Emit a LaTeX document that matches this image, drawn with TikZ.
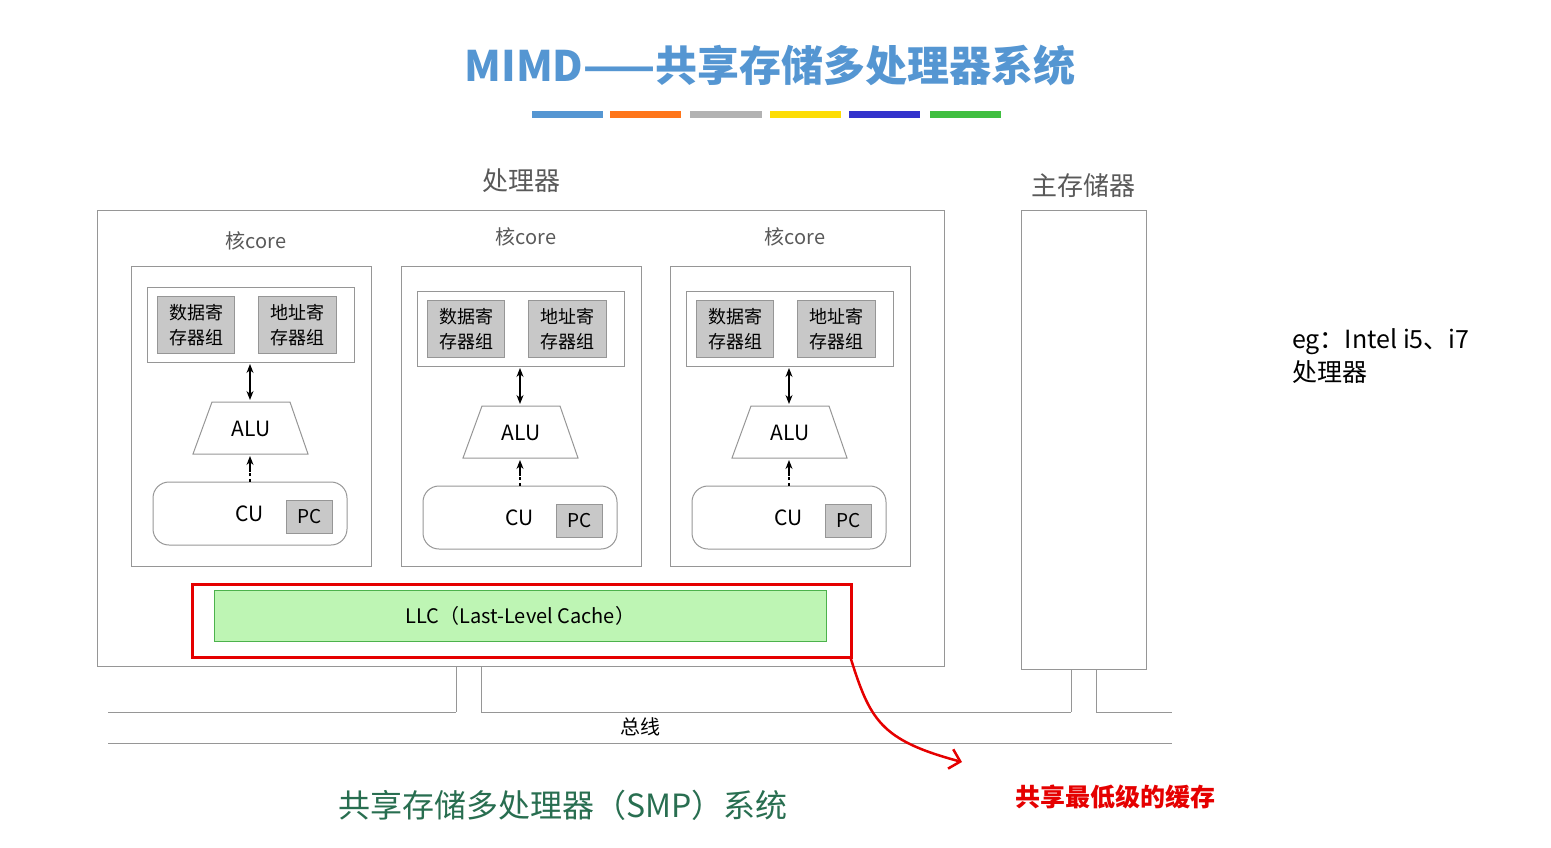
\documentclass[tikz,border=0pt]{standalone}
\usepackage{fontspec}
\setmainfont{Noto Sans CJK SC}
\usetikzlibrary{arrows.meta,calc}
\definecolor{ln}{RGB}{150,150,150}
\definecolor{reg}{RGB}{200,200,200}
\definecolor{llc}{RGB}{190,245,180}
\definecolor{ttl}{RGB}{85,150,210}
\definecolor{grn}{RGB}{40,110,80}
\begin{document}
\begin{tikzpicture}[x=1pt,y=-1pt,
  box/.style={draw=ln,line width=1pt},
  regbox/.style={draw=ln,fill=reg,line width=1pt,align=center,font=\fontsize{18}{25}\selectfont,inner sep=0pt},
  lbl/.style={font=\fontsize{20}{24}\selectfont,text=black!65},
  arr/.style={-{Stealth[length=9pt,width=7pt]},line width=1.2pt}]
\useasboundingbox (0,0) rectangle (1551,847);
\node[font=\bfseries\fontsize{42}{48}\selectfont,text=ttl] (title) at (770,65) {MIMD——共享存储多处理器系统};
\foreach \a/\b/\c in {532/603/ttl,610/681/orange!80!red!90!white,690/762/gray!60,770/841/yellow!80!orange,849/920/blue!60!gray,930/1001/green!50!gray}
  \fill[\c] (\a,111) rectangle (\b,118);
\node[box,minimum width=847,minimum height=456,anchor=north west] (proc) at (97,210) {};
\node[font=\fontsize{26}{30}\selectfont,text=black!65] (plab) at (521,181) {处理器};
\node[box,minimum width=125,minimum height=459,anchor=north west] (mem) at (1021,210) {};
\node[font=\fontsize{26}{30}\selectfont,text=black!65] (mlab) at (1083,186) {主存储器};
\foreach \i/\x/\dy/\ly in {1/131/0/241,2/401/4/237,3/670/4/237}{
  \node[box,minimum width=240,minimum height=300,anchor=north west] (core\i) at (\x,266) {};
  \node[lbl] (clab\i) at (\x+125,\ly) {核core};
  \begin{scope}[shift={(\x,\dy)}]
  \node[box,minimum width=207,minimum height=75,anchor=north west] (regs\i) at (16,287) {};
  \node[regbox,minimum width=77,minimum height=57,anchor=north west] (dr\i) at (26,296) {数据寄\\存器组};
  \node[regbox,minimum width=78,minimum height=57,anchor=north west] (ar\i) at (127,296) {地址寄\\存器组};
  \draw[box] (81,402) -- (159,402) -- (177,454) -- (62,454) -- cycle;
  \node[font=\fontsize{21}{24}\selectfont] (alu\i) at (120,429) {ALU};
  \draw[box,rounded corners=16pt] (22,482) rectangle (216,545);
  \node[font=\fontsize{21}{24}\selectfont] (cu\i) at (119,514) {CU};
  \node[regbox,minimum width=46,minimum height=33,anchor=north west,font=\fontsize{19}{22}\selectfont] (pc\i) at (155,500) {PC};
  \coordinate (a\i) at (119,364); \coordinate (b\i) at (119,400);
  \draw[arr,{Stealth[length=9pt,width=7pt]}-{Stealth[length=9pt,width=7pt]}] (a\i) -- (b\i);
  \coordinate (c\i) at (119,482); \coordinate (d\i) at (119,456);
  \coordinate (e\i) at (119,472);
  \draw[line width=1.2pt,dashed] (c\i) -- (e\i);
  \draw[arr] (e\i) -- (d\i);
  \end{scope}}
\node[draw=green!40!gray,fill=llc,minimum width=612,minimum height=51,anchor=north west] (llc) at (214,590) {};
\node[font=\fontsize{20}{24}\selectfont] at (llc) {LLC（Last-Level Cache）};
\node[draw=red!90!black,line width=3pt,minimum width=659,minimum height=73,anchor=north west] (red) at (191,583) {};
% bus
\draw[ln,line width=1pt] (108,712) -- (456,712) (481,712) -- (1071,712) (1096,712) -- (1172,712);
\draw[ln,line width=1pt] (108,743) -- (1172,743);
\draw[ln,line width=1pt] (456,666) -- (456,712) (481,666) -- (481,712);
\draw[ln,line width=1pt] (1071,669) -- (1071,712) (1096,669) -- (1096,712);
\node[font=\fontsize{20}{24}\selectfont] (bus) at (640,727) {总线};
\coordinate (rs) at (850,656); \coordinate (re) at (962,762);
\draw[red!90!black,line width=2.5pt,-{Straight Barb[length=10pt,width=20pt]}] (rs) .. controls (870,720) and (880,740) .. (re);
\node[font=\bfseries\fontsize{25}{30}\selectfont,text=red!90!black] (note) at (1115,797) {共享最低级的缓存};
\node[font=\fontsize{32}{36}\selectfont,text=grn] (smp) at (563,805) {共享存储多处理器（SMP）系统};
\node[font=\fontsize{25}{33}\selectfont,anchor=north west,align=left,inner sep=0pt] (eg) at (1292,328) {eg：Intel i5、i7\\处理器};
\end{tikzpicture}
\end{document}
